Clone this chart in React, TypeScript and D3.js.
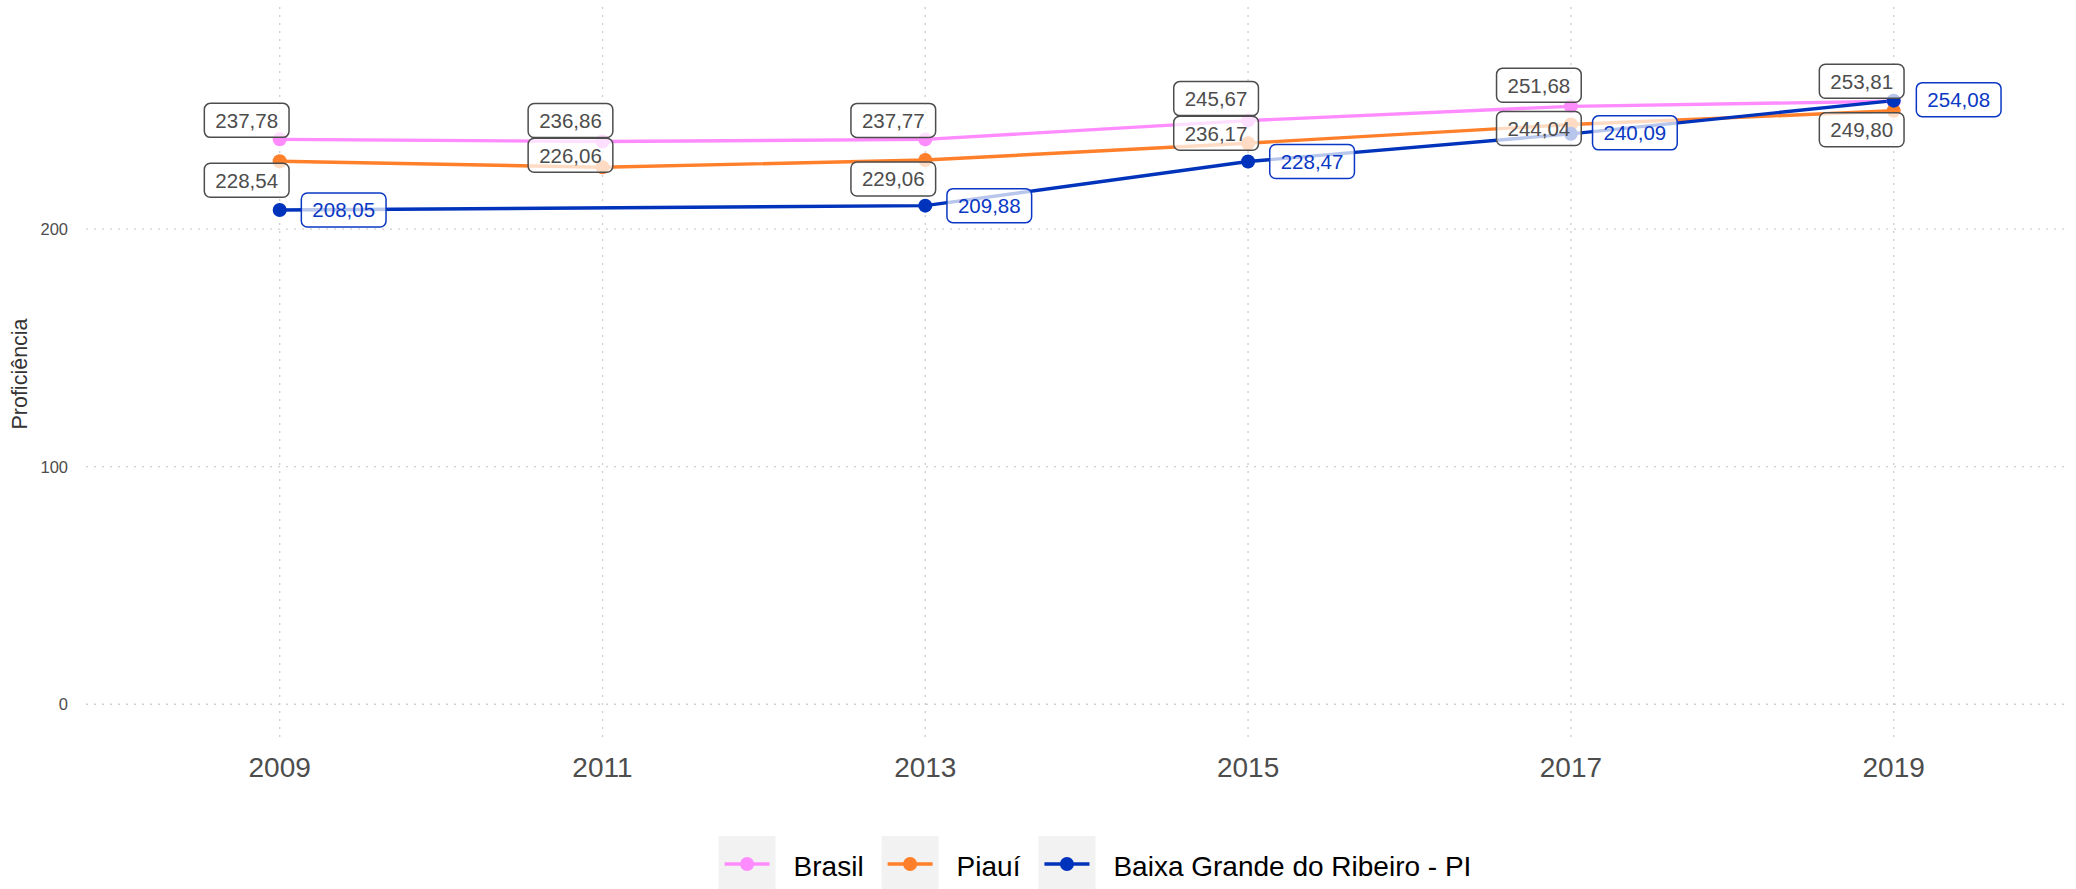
import React from "react";
import * as d3 from "d3";

// anos e valores de proficiência
const years = [2009, 2011, 2013, 2015, 2017, 2019];
const brasil = [237.78, 236.86, 237.77, 245.67, 251.68, 253.81];
const piaui = [228.54, 226.06, 229.06, 236.17, 244.04, 249.8];
const baixaGrande = [208.05, null, 209.88, 228.47, 240.09, 254.08];
const seriesNames = ["Brasil", "Piauí", "Baixa Grande do Ribeiro - PI"];
const yTicks = [0, 100, 200];

const colors = ["#ff8cff", "#ff7f2a", "#0033bb"];
const labelInk = ["#4d4d4d", "#4d4d4d", "#0a38c4"];

// deslocamento dos rótulos (como o ggrepel deixou), em px
const nudges: ([number, number] | null)[][] = [
  [[-33, -19], [-32, -21], [-32, -19], [-32, -22], [-32, -21], [-32, -20]],
  [[-33, 19], [-32, -12], [-32, 19], [-32, -10], [-32, 4], [-32, 19]],
  [[64, 0], null, [64, 0], [64, 0], [64, -1], [65, -1]],
];

const W = 2076;
const H = 889;
const FONT = "'Liberation Sans', Arial, Helvetica, sans-serif";

const measure = (txt: string, size: number) => {
  const ctx = document.createElement("canvas").getContext("2d");
  if (!ctx) return txt.length * size * 0.55;
  ctx.font = `${size}px ${FONT}`;
  return ctx.measureText(txt).width;
};

const fmt = (v: number) => v.toFixed(2).replace(".", ",");

export default function App() {
  const panel = { left: 86, right: 2068, top: 7, bottom: 741 };

  const x = d3.scaleLinear().domain([2007.8, 2020.08]).range([panel.left, panel.right]);
  const y = d3.scaleLinear().domain([-15.5, 293.5]).range([panel.bottom, panel.top]);

  const allSeries = [brasil, piaui, baixaGrande].map((vals, i) => ({
    name: seriesNames[i],
    color: colors[i],
    ink: labelInk[i],
    points: years
      .map((yr, j) => ({ yr, v: vals[j], nudge: nudges[i][j] }))
      .filter((p) => p.v != null) as { yr: number; v: number; nudge: [number, number] }[],
  }));

  const lineGen = d3
    .line<{ yr: number; v: number }>()
    .x((d) => x(d.yr))
    .y((d) => y(d.v));

  // legenda
  const legendFont = 28;
  const keyW = 57;
  const gap = 18;
  const items = seriesNames.map((n) => ({ n, w: measure(n, legendFont) }));
  const totalW = items.reduce((s, it) => s + keyW + gap + it.w, 0) + gap * (items.length - 1);
  let lx = 1095 - totalW / 2;
  const legendItems = items.map((it, i) => {
    const pos = lx;
    lx += keyW + gap + it.w + gap;
    return { ...it, x: pos, color: colors[i] };
  });

  const labelH = 34;
  const labelFont = 20.5;

  return (
    <svg
      width={W}
      height={H}
      style={{ position: "absolute", left: 0, top: 0, background: "#fff" }}
      fontFamily={FONT}
    >
      {/* grade */}
      {yTicks.map((t) => (
        <line
          key={"gy" + t}
          x1={panel.left}
          x2={panel.right}
          y1={y(t)}
          y2={y(t)}
          stroke="#cfcfcf"
          strokeWidth={1.4}
          strokeDasharray="2,6"
        />
      ))}
      {years.map((t) => (
        <line
          key={"gx" + t}
          x1={x(t)}
          x2={x(t)}
          y1={panel.top}
          y2={panel.bottom}
          stroke="#cfcfcf"
          strokeWidth={1.4}
          strokeDasharray="2,6"
        />
      ))}

      {/* eixos */}
      {yTicks.map((t) => (
        <text
          key={"ty" + t}
          x={68}
          y={y(t)}
          dy="0.36em"
          textAnchor="end"
          fontSize={16.5}
          fill="#4d4d4d"
        >
          {t}
        </text>
      ))}
      {years.map((t) => (
        <text key={"tx" + t} x={x(t)} y={777} textAnchor="middle" fontSize={28} fill="#4d4d4d">
          {t}
        </text>
      ))}
      <text
        transform={`translate(27, ${(panel.top + panel.bottom) / 2}) rotate(-90)`}
        textAnchor="middle"
        fontSize={21.5}
        fill="#333"
      >
        Proficiência
      </text>

      {/* linhas */}
      {allSeries.map((s) => (
        <path key={"l" + s.name} d={lineGen(s.points) || ""} fill="none" stroke={s.color} strokeWidth={3.4} />
      ))}
      {allSeries.map((s) =>
        s.points.map((p) => (
          <circle key={"p" + s.name + p.yr} cx={x(p.yr)} cy={y(p.v)} r={7} fill={s.color} />
        ))
      )}

      {/* rótulos */}
      {allSeries.map((s) =>
        s.points.map((p) => {
          const txt = fmt(p.v);
          const bw = measure(txt, labelFont) + 22;
          const cx = x(p.yr) + p.nudge[0];
          const cy = y(p.v) + p.nudge[1];
          return (
            <g key={"lb" + s.name + p.yr}>
              <rect
                x={cx - bw / 2}
                y={cy - labelH / 2}
                width={bw}
                height={labelH}
                rx={6}
                fill="#fff"
                fillOpacity={0.72}
                stroke={s.ink}
                strokeWidth={1.5}
              />
              <text x={cx} y={cy} dy="0.36em" textAnchor="middle" fontSize={labelFont} fill={s.ink}>
                {txt}
              </text>
            </g>
          );
        })
      )}

      {/* legenda */}
      {legendItems.map((it) => (
        <g key={"lg" + it.n}>
          <rect x={it.x} y={836} width={keyW} height={56} fill="#f2f2f2" />
          <line
            x1={it.x + 6}
            x2={it.x + keyW - 6}
            y1={864}
            y2={864}
            stroke={it.color}
            strokeWidth={3.4}
          />
          <circle cx={it.x + keyW / 2} cy={864} r={7} fill={it.color} />
          <text x={it.x + keyW + gap} y={876} fontSize={legendFont} fill="#000">
            {it.n}
          </text>
        </g>
      ))}
    </svg>
  );
}
